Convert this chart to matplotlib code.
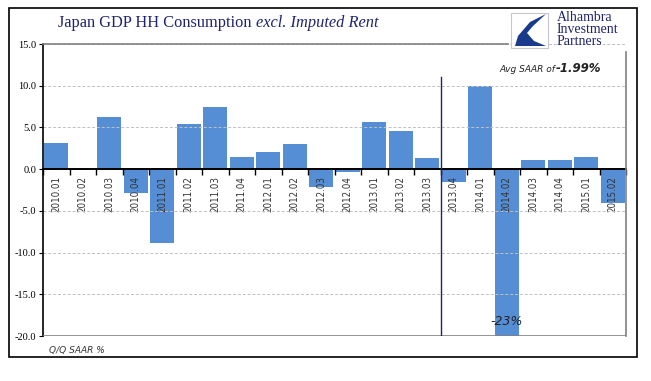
import matplotlib
matplotlib.use('Agg')
import matplotlib.pyplot as plt
import matplotlib.patches as mpatches
from matplotlib.lines import Line2D
import numpy as np

quarters = ['2010.01', '2010.02', '2010.03', '2010.04', '2011.01', '2011.02',
            '2011.03', '2011.04', '2012.01', '2012.02', '2012.03', '2012.04',
            '2013.01', '2013.02', '2013.03', '2013.04', '2014.01', '2014.02',
            '2014.03', '2014.04', '2015.01', '2015.02']
saar = [3.1, 0.0, 6.3, -2.8, -8.8, 5.4, 7.5, 1.4, 2.1, 3.0, -2.2, -0.4,
        5.7, 4.6, 1.3, -1.6, 10.0, -23.0, 1.1, 1.1, 1.5, -4.0]
yticks = [15, 10, 5, 0, -5, -10, -15, -20]

W, H = 651, 381
BLUE = '#558ed5'
NAVY = '#1f2370'


def px(x, y):
    return x / W, 1 - y / H


def after(fig, t, gap=0):
    # figure-fraction x right after text t
    r = fig.canvas.get_renderer()
    bb = t.get_window_extent(r)
    return (bb.x1 + gap) / W


fig = plt.figure(figsize=(W / 100, H / 100), dpi=100)
ax = fig.add_axes([43 / W, 1 - 336 / H, (626 - 43) / W, (336 - 44) / H])

x = np.arange(len(quarters))
ax.bar(x, saar, width=0.9, color=BLUE, zorder=1)
ax.set_xlim(-0.5, len(quarters) - 0.5)
ax.set_ylim(-20, 15)

ax.set_yticks(yticks)
ax.set_yticklabels([f'{v:.1f}' for v in yticks], fontsize=7.5,
                   family=['Liberation Serif', 'DejaVu Serif'])
ax.tick_params(axis='y', length=3, width=0.8, pad=2)
ax.yaxis.grid(True, linestyle=(0, (3, 2)), color='#c0c0c0', linewidth=0.7)

# zero axis with boundary ticks, labels rotated inside
ax.spines['bottom'].set_position(('data', 0))
ax.spines['bottom'].set_linewidth(1.4)
ax.set_xticks(np.arange(len(quarters) + 1) - 0.5)
ax.set_xticklabels([])
ax.set_xticks(x, minor=True)
ax.set_xticklabels(quarters, minor=True, rotation=90, fontsize=7,
                   family='DejaVu Sans', fontstretch='condensed',
                   color='#333333', va='top')
ax.tick_params(axis='x', which='major', length=4, width=1, direction='out')
ax.tick_params(axis='x', which='minor', length=0, pad=5)

ax.spines['top'].set_visible(False)
ax.spines['right'].set_visible(False)
ax.spines['left'].set_linewidth(1.2)
ax.axhline(-20, color='#808080', linewidth=1.2, zorder=3)

# break line between 2013.03 and 2013.04
ax.plot([14.5, 14.5], [-20, 11.0], color=NAVY, linewidth=1.0, zorder=3)

ax.text(17, -19.1, '-23%', fontsize=9, style='italic', ha='center',
        va='bottom', color='#222222')
t1 = fig.text(*px(499, 72), 'Avg SAAR of', fontsize=6.5, style='italic',
              va='baseline', color='#222222')
fig.text(after(fig, t1, 1), 1 - 72 / H, '-1.99%', fontsize=8.5,
         style='italic', weight='bold', va='baseline', color='#222222')
fig.text(*px(49, 353), 'Q/Q SAAR %', fontsize=6.5, style='italic',
         va='baseline', color='#333333')

# top and right plot edges
fig.add_artist(Line2D([43 / W, 508 / W], [1 - 44 / H] * 2, color='#808080',
                      linewidth=1.2))
fig.add_artist(Line2D([626 / W] * 2, [1 - 336 / H, 1 - 52 / H],
                      color='#808080', linewidth=1.2))

# outer frame
fig.add_artist(mpatches.Rectangle(px(9, 357), 628 / W, 349 / H, fill=False,
                                  edgecolor='black', linewidth=1.2))

# title
t2 = fig.text(*px(58, 27), 'Japan GDP HH Consumption', fontsize=11.8,
              family='Liberation Serif', color=NAVY, va='baseline')
fig.text(after(fig, t2, 4), 1 - 27 / H, 'excl. Imputed Rent', fontsize=11.8,
         family='Liberation Serif', style='italic', color=NAVY,
         va='baseline')

# logo
fig.add_artist(mpatches.Rectangle(px(511, 48), 37 / W, 35 / H,
                                  facecolor='white', edgecolor='#c8c8c8',
                                  linewidth=0.8))
swoosh = [(546, 14), (530, 22), (518, 36), (515, 46), (546, 46),
          (534, 41), (527, 33), (533, 26)]
fig.add_artist(mpatches.Polygon([px(a, b) for a, b in swoosh],
                                closed=True, facecolor='#1a3a8c',
                                edgecolor='none'))
fig.text(*px(557, 11), 'Alhambra\nInvestment\nPartners', fontsize=10,
         family='Liberation Serif', color=NAVY, va='top', linespacing=0.92)

fig.savefig('out.png', dpi=100)
